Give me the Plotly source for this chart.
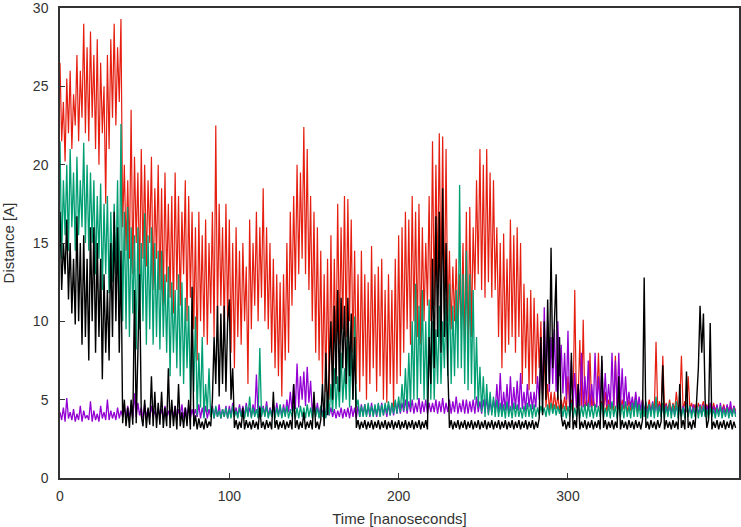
import plotly.graph_objects as go

time_ns = list(range(0, 400))

red = [
    26.5, 21.5, 24, 20.2, 25.5, 22, 26, 21, 24.5, 22.5, 27, 21.5, 26, 23, 29, 22, 27.5, 21.5, 28.5, 23,
    27, 21, 28, 20, 26.5, 22, 25, 17.5, 27, 21, 28, 23, 29, 22.5, 27.5, 24, 29.3, 16, 20, 14.5,
    19, 14, 23.5, 13, 20.5, 15, 19.5, 12.5, 21, 14, 20, 13.5, 19, 15, 20.5, 12, 18.5, 14, 20, 12,
    18.5, 11, 19.5, 12.5, 17.5, 11.5, 18, 10.5, 19.5, 12, 18, 11, 17, 13, 19, 10, 18, 11.5, 17, 9.5,
    16, 7.5, 17, 10, 15.5, 9, 16.5, 8.5, 15, 10.5, 17, 9, 22.5, 10, 17.5, 11, 16, 9.5, 17.5, 10,
    16.5, 8, 15, 7, 16, 9, 14.5, 8.5, 15, 10, 13.5, 6, 16.5, 9.5, 15, 11, 17, 10, 16, 11.5,
    18.5, 10, 16, 9.5, 15, 8, 14, 7, 13, 6.5, 12.5, 5.2, 13, 7.5, 15, 8, 17, 11, 18, 12,
    20, 13, 19.5, 14, 22.4, 13, 21, 12, 18, 10, 17, 8, 16, 7.5, 14.5, 6, 13, 5.5, 14, 5,
    15.5, 6.5, 14, 7.5, 17.5, 8.5, 16, 9.5, 18, 9, 17.8, 10, 16.5, 8, 14.5, 6, 13, 5.5, 14.5, 6.5,
    13, 5, 12.5, 6, 14.8, 7, 13, 5.5, 13.5, 6.5, 14, 5, 12, 4.8, 13, 6, 12, 4.5, 14, 6,
    15.5, 6.5, 16, 8, 17, 9.5, 16.5, 8.5, 18, 10, 17, 9, 17.5, 8.5, 16, 10, 15, 11, 18, 10,
    21.5, 11, 20, 12.5, 22, 12, 21.8, 10.5, 21, 10, 14.5, 9.5, 13.5, 10, 14, 9.3, 13, 9.5, 15, 8,
    17, 7.5, 17.3, 9, 16, 12, 19, 13, 21, 12, 20, 11.5, 21, 12.5, 19.5, 11.5, 19, 12, 16, 9,
    15, 7, 15.6, 8, 14, 8.5, 16.5, 9, 15.5, 8, 16, 9, 15, 6, 12.4, 7, 11.5, 5.6, 12, 6,
    11.5, 6, 10.5, 7, 10, 5, 8, 4.5, 6, 4.3, 5.5, 4.2, 5.5, 4.4, 5.3, 4.3, 5, 4.4, 5.2, 4.3,
    6.5, 4.5, 5, 4.3, 12, 4.5, 5, 8.8, 4.3, 10.1, 4.4, 5, 4.3, 8, 4.4, 5.2, 4.3, 4.9, 8, 4.4,
    4.9, 4.3, 5.5, 4.2, 5, 4.4, 4.8, 4.3, 7.8, 4.4, 5.2, 4.2, 5, 4.4, 4.8, 4.2, 5, 4.3, 4.9, 4.4,
    5.3, 4.2, 4.8, 4.3, 5, 4.2, 4.7, 4.4, 5, 4.2, 4.8, 4.3, 8.7, 4.3, 4.9, 4.2, 7.8, 4.4, 4.8, 4.3,
    5, 4.2, 4.8, 4.3, 5.5, 4.4, 4.7, 7.8, 4.3, 4.9, 4.2, 6.5, 4.4, 4.8, 4.2, 4.7, 4.3, 4.8, 4.2, 4.6,
    4.9, 4.2, 4.7, 4.3, 4.6, 4.2, 4.8, 4.3, 4.6, 4.2, 4.5, 4.3, 4.7, 4.2, 4.6, 4.3, 4.5, 4.2, 4.6, 4.3,
]

green = [
    21.5, 14, 19, 15.5, 20, 14.5, 21, 16, 19.5, 14.5, 20.5, 15.5, 19, 16, 21.4, 15, 20, 14.5, 19.5, 15,
    19, 13, 18, 14, 18.8, 12, 17.5, 13, 18, 11.8, 17, 12.5, 17.5, 13, 19, 11, 22.6, 10, 17, 9.5,
    17.3, 9, 16, 10.5, 15.5, 8.2, 16, 9.5, 15, 10, 16.9, 8.5, 15.5, 9.5, 16, 8.5, 15, 9, 14.5, 8.2,
    14.5, 9, 13, 8, 13.5, 6.5, 12.5, 8, 12, 7, 13, 6.5, 12.5, 6, 11.5, 7, 11, 5, 10.5, 5.5,
    10.3, 4, 8, 4.5, 9, 3.8, 6, 4.2, 7, 3.9, 4.5, 3.8, 4.6, 3.9, 4.3, 3.8, 4.4, 3.9, 4.5, 3.8,
    4.4, 3.8, 4.6, 3.9, 4.3, 3.8, 4.5, 3.9, 4.4, 3.8, 4.6, 3.9, 5.2, 3.8, 4.5, 3.9, 4.4, 3.8, 8.3, 3.9,
    4.5, 3.9, 4.6, 3.8, 4.4, 3.9, 4.7, 3.8, 4.5, 3.9, 4.7, 3.8, 4.5, 3.9, 4.6, 3.8, 4.4, 3.9, 4.6, 3.8,
    4.5, 3.8, 4.6, 3.9, 4.5, 3.8, 4.7, 3.9, 4.5, 3.8, 4.7, 3.9, 4.5, 3.8, 4.6, 3.9, 4.5, 3.8, 5.5, 4,
    6, 4.2, 7, 4.4, 6.5, 4.5, 8, 4.8, 7, 5, 9.5, 4.5, 8.5, 5, 10.3, 4.5, 5, 3.9, 4.6, 3.9,
    4.7, 3.9, 4.8, 4, 4.6, 3.9, 4.7, 4, 4.8, 3.9, 4.7, 4, 4.8, 4.1, 4.9, 4, 4.8, 4.1, 5, 4.1,
    5.2, 4.2, 6, 4.3, 7, 4.3, 8, 4.5, 10, 5, 12.4, 5, 11, 6, 12, 5, 10, 4.5, 11.4, 5,
    10, 5, 9.5, 6, 11, 6, 10, 7, 11.5, 6.5, 12.4, 6, 11, 6.5, 12, 7, 18.7, 7, 13, 6,
    14.5, 5.6, 13, 6, 12, 5, 9, 4.5, 7.1, 4.2, 6.5, 3.9, 6, 4, 5.5, 4, 5.2, 3.9, 5, 3.9,
    4.8, 3.9, 4.7, 3.8, 4.9, 3.9, 4.6, 3.8, 4.8, 3.9, 4.7, 3.9, 4.5, 3.8, 4.6, 3.9, 4.8, 3.9, 4.7, 3.8,
    4.7, 3.9, 4.5, 4, 4.6, 4.1, 4.5, 3.9, 4.7, 4.0, 4.8, 4.1, 4.7, 4.0, 4.6, 4.1, 4.7, 3.9, 4.6, 3.8,
    4.6, 3.9, 4.8, 3.8, 4.5, 3.9, 4.7, 3.8, 4.6, 3.9, 4.7, 3.8, 4.8, 3.9, 4.6, 3.8, 4.7, 3.9, 4.6, 3.9,
    4.8, 3.8, 4.5, 3.9, 4.7, 3.8, 4.9, 3.9, 4.6, 3.8, 4.8, 3.9, 4.7, 3.8, 4.9, 3.9, 4.6, 3.8, 4.8, 3.9,
    5, 3.9, 4.7, 3.8, 4.8, 3.9, 4.9, 3.8, 4.7, 3.9, 4.8, 3.8, 5.2, 3.9, 4.6, 3.9, 4.8, 3.8, 4.6, 3.9,
    4.8, 3.8, 4.7, 3.9, 4.9, 3.8, 4.6, 3.9, 4.5, 3.8, 4.7, 3.9, 4.6, 3.8, 4.5, 3.9, 4.7, 3.8, 4.6, 3.9,
    4.6, 3.9, 4.4, 3.8, 4.5, 3.9, 4.4, 3.8, 4.5, 3.9, 4.6, 3.8, 4.4, 3.9, 4.5, 3.8, 4.4, 3.9, 4.5, 3.9,
]

black = [
    17, 12, 15, 13, 16.5, 11.4, 15, 10.5, 14, 9.8, 16.7, 10, 15, 8.5, 15.5, 9, 14, 7.5, 16, 10,
    16, 8, 15, 9, 14, 6.3, 13, 8, 12, 7.5, 15, 9, 17, 10, 16, 8, 14.5, 3.5, 5, 3.3,
    4.5, 3.2, 5, 3.4, 12, 3.5, 8, 13, 4, 3.3, 5, 3.2, 4.5, 3.4, 6.5, 3.3, 5.5, 3.2, 4.8, 3.4,
    5.5, 3.2, 4.5, 3.3, 7, 3.2, 5, 3.3, 4.6, 3.1, 6, 3.3, 4.2, 3.2, 4.5, 3.3, 5, 3.1, 12.2, 3.3,
    4, 3.1, 3.8, 3.2, 3.6, 3.1, 3.8, 3.2, 3.6, 3.3, 5, 9, 6, 11, 5.2, 10.5, 6, 11, 5.5, 10,
    11.4, 5, 7, 3.2, 3.7, 3.1, 3.6, 3.2, 4.5, 3.1, 3.7, 3.2, 3.6, 3.1, 3.7, 3.2, 3.6, 3.1, 4.5, 3.2,
    3.6, 3.1, 3.7, 3.2, 3.6, 3.1, 5.5, 3.2, 3.7, 3.1, 3.6, 3.2, 3.7, 3.1, 3.6, 3.2, 3.7, 3.1, 6, 3.2,
    3.7, 3.1, 3.6, 3.2, 4.2, 3.1, 3.6, 3.2, 3.7, 3.1, 5.5, 3.2, 3.6, 3.1, 3.7, 6, 3.3, 8, 4, 7,
    10, 5, 11, 6, 12, 5.5, 11.5, 7, 11, 6, 11.5, 6.5, 10.5, 5, 9, 3.2, 3.7, 3.1, 3.6, 3.2,
    3.7, 3.1, 3.6, 3.2, 3.7, 3.1, 3.6, 3.2, 3.7, 3.1, 3.6, 3.2, 3.7, 3.1, 3.6, 3.2, 3.7, 3.1, 3.6, 3.2,
    3.7, 3.1, 3.6, 3.2, 3.7, 3.1, 3.6, 3.2, 3.7, 3.1, 3.6, 3.2, 3.7, 3.1, 3.6, 3.2, 3.7, 3.1, 9, 6,
    14, 7, 16.7, 9, 17, 8, 18.5, 9, 15, 7.1, 3.2, 3.7, 3.1, 3.6, 3.2, 3.7, 3.1, 3.6, 3.2, 3.7,
    3.1, 3.6, 3.2, 3.7, 3.1, 3.6, 3.2, 3.7, 3.1, 3.6, 3.2, 3.7, 3.1, 3.6, 3.2, 3.7, 3.1, 3.6, 3.2, 3.7,
    3.1, 3.6, 3.2, 3.7, 3.1, 3.6, 3.2, 3.7, 3.1, 3.6, 3.2, 3.7, 3.1, 3.6, 3.2, 3.7, 3.1, 3.6, 3.2, 3.7,
    3.1, 3.6, 3.2, 3.8, 9, 4, 10, 5, 11.4, 6, 14.7, 7, 10, 13, 5, 9, 4, 3.3, 3.7, 3.1,
    3.6, 3.2, 8, 3.1, 3.7, 3.2, 6, 3.1, 3.6, 3.2, 3.7, 3.1, 3.6, 3.2, 3.7, 3.1, 3.6, 3.2, 3.7, 3.1,
    7.8, 3.2, 3.7, 3.1, 3.6, 3.2, 3.7, 3.1, 3.6, 3.2, 6.5, 3.1, 3.7, 3.2, 3.6, 3.1, 3.7, 3.2, 3.6, 3.1,
    3.7, 3.2, 3.6, 3.1, 3.7, 12.8, 3.2, 3.6, 3.1, 3.7, 3.2, 3.6, 3.1, 3.7, 3.2, 3.6, 7.2, 3.1, 3.7, 3.2,
    3.6, 3.1, 3.7, 3.2, 3.6, 3.1, 6, 3.2, 3.7, 3.1, 6.8, 3.2, 3.6, 3.1, 3.7, 3.2, 5, 7, 11, 8,
    10.5, 5, 3.2, 3.7, 9.9, 3.1, 3.6, 3.2, 3.7, 3.1, 3.6, 3.2, 3.7, 3.1, 3.6, 3.2, 3.7, 3.1, 3.6, 3.2,
]

purple = [
    4.2, 3.7, 4.5, 3.6, 5.1, 3.8, 4.2, 3.7, 4.4, 3.6, 4.1, 3.7, 4.6, 3.6, 4.3, 3.8, 4.0, 3.7, 4.9, 3.6,
    4.3, 3.7, 4.1, 3.6, 4.6, 3.8, 4.2, 3.7, 5.0, 3.7, 4.3, 3.8, 4.2, 3.7, 4.5, 3.8, 4.3, 3.9, 4.6, 3.8,
    4.6, 3.9, 4.4, 3.8, 5.4, 3.9, 4.8, 4.0, 4.5, 3.8, 4.7, 3.9, 4.4, 3.8, 4.6, 3.9, 4.3, 3.8, 4.5, 3.9,
    4.4, 3.8, 4.6, 3.9, 4.3, 3.8, 4.5, 3.9, 4.6, 3.8, 4.4, 3.9, 4.7, 3.8, 4.5, 3.9, 4.6, 3.8, 4.4, 3.9,
    4.4, 3.9, 4.7, 3.8, 4.5, 3.9, 4.6, 3.8, 4.4, 3.9, 4.6, 3.8, 4.5, 3.9, 4.7, 3.8, 4.4, 3.9, 4.6, 3.8,
    4.6, 3.9, 4.8, 4.0, 4.5, 3.9, 4.7, 4.0, 4.6, 3.9, 4.8, 4.0, 4.5, 3.9, 4.7, 4.0, 6.6, 3.9, 4.6, 4.0,
    4.6, 4.0, 4.9, 3.9, 4.5, 4.0, 4.7, 3.9, 4.8, 4.0, 4.6, 3.9, 4.7, 4.0, 5.0, 4.2, 5.5, 4.3, 6.0, 4.4,
    7.3, 4.5, 6.5, 5.0, 6.8, 4.6, 7.1, 4.8, 6.2, 4.2, 5.0, 4.0, 4.8, 3.9, 4.6, 4.0, 4.7, 3.9, 4.5, 4.0,
    4.5, 3.9, 4.4, 3.8, 4.3, 3.9, 4.5, 3.8, 4.4, 3.9, 4.5, 3.8, 4.6, 3.9, 4.5, 3.8, 4.6, 3.9, 4.7, 4.0,
    4.7, 4.0, 4.6, 3.9, 4.8, 4.0, 4.6, 3.9, 4.7, 4.0, 4.8, 4.0, 4.6, 3.9, 4.7, 4.0, 4.8, 4.0, 4.9, 4.1,
    4.9, 4.1, 4.8, 4.2, 5.0, 4.1, 4.9, 4.2, 5.0, 4.1, 4.8, 4.2, 5.1, 4.1, 4.9, 4.2, 5.0, 4.1, 4.8, 4.2,
    4.8, 4.2, 5.0, 4.1, 4.9, 4.2, 5.1, 4.1, 4.8, 4.2, 5.0, 4.1, 4.9, 4.2, 5.2, 4.1, 4.8, 4.2, 5.0, 4.1,
    5.0, 4.1, 4.9, 4.2, 5.0, 4.1, 5.2, 4.2, 4.9, 4.1, 5.0, 4.2, 5.1, 4.1, 4.9, 4.2, 5.0, 4.2, 6.0, 4.2,
    6.7, 4.2, 5.5, 4.3, 6.0, 4.2, 6.5, 4.3, 5.8, 4.4, 6.2, 4.3, 6.7, 4.4, 5.5, 4.3, 6.0, 4.5, 5.5, 4.4,
    5.5, 4.5, 6.5, 5.0, 8.0, 5.4, 10.9, 6.0, 10.0, 5.5, 9.0, 6.0, 9.5, 5.5, 10.0, 6.5, 8.5, 5.4, 8.0, 5.0,
    9.4, 4.5, 7.5, 4.6, 6.7, 4.5, 6.0, 4.6, 8.0, 4.5, 6.5, 4.6, 7.5, 4.5, 6.0, 4.6, 8.0, 4.5, 6.5, 4.6,
    7.5, 4.5, 6.7, 4.6, 6.0, 4.5, 8.0, 4.6, 7.5, 4.5, 8.0, 4.6, 7.0, 4.5, 6.5, 4.6, 5.5, 4.5, 5.2, 4.4,
    5.5, 4.4, 5.2, 4.3, 5.0, 4.2, 4.8, 4.1, 4.7, 4.2, 4.9, 4.1, 4.8, 4.2, 4.7, 4.1, 4.6, 4.2, 4.7, 4.1,
    4.6, 4.1, 4.7, 4.0, 4.6, 4.1, 4.7, 4.0, 4.6, 4.1, 4.8, 4.0, 4.6, 4.1, 4.7, 4.0, 4.6, 4.1, 4.7, 4.0,
    4.7, 4.0, 4.6, 4.1, 4.8, 4.0, 4.6, 4.1, 4.7, 4.0, 4.8, 4.1, 4.6, 4.0, 4.7, 4.1, 4.9, 4.0, 4.6, 4.1,
]

x_ticks = [0, 100, 200, 300]
y_ticks = [0, 5, 10, 15, 20, 25, 30]

series = [("red", red, "#e51e10", 1.2), ("purple", purple, "#9400d3", 1.3),
          ("green", green, "#009e73", 1.3), ("black", black, "#000000", 1.4)]

fig = go.Figure()
for name, vals, col, w in series:
    fig.add_trace(go.Scatter(x=time_ns, y=vals, mode="lines", name=name,
                             line=dict(color=col, width=w)))

axis_font = dict(family="Liberation Sans", size=14, color="#333333")
title_font = dict(family="Liberation Sans", size=15, color="#333333")
fig.update_layout(
    width=741, height=527,
    margin=dict(l=60, r=2, t=8, b=49),
    plot_bgcolor="white", paper_bgcolor="white",
    showlegend=False, font=axis_font,
)
fig.update_xaxes(range=[0, 401], tickvals=x_ticks, ticks="inside", ticklen=5,
                 tickcolor="#333333", ticklabelstandoff=4, ticklabeloverflow="allow",
                 showline=True, linecolor="#333333", linewidth=1.5, mirror=True,
                 showgrid=False, zeroline=False, automargin=False,
                 title=dict(text="Time [nanoseconds]", standoff=13, font=title_font))
fig.update_yaxes(range=[0, 30], tickvals=y_ticks, ticks="inside", ticklen=5,
                 tickcolor="#333333", ticklabelstandoff=7, ticklabeloverflow="allow",
                 showline=True, linecolor="#333333", linewidth=1.5, mirror=True,
                 showgrid=False, zeroline=False, automargin=False,
                 title=dict(text="Distance [A]", standoff=19, font=title_font))
fig.write_html("out.html", config={"displayModeBar": False},
               post_script="document.body.style.margin='0';document.body.style.overflow='hidden';")
